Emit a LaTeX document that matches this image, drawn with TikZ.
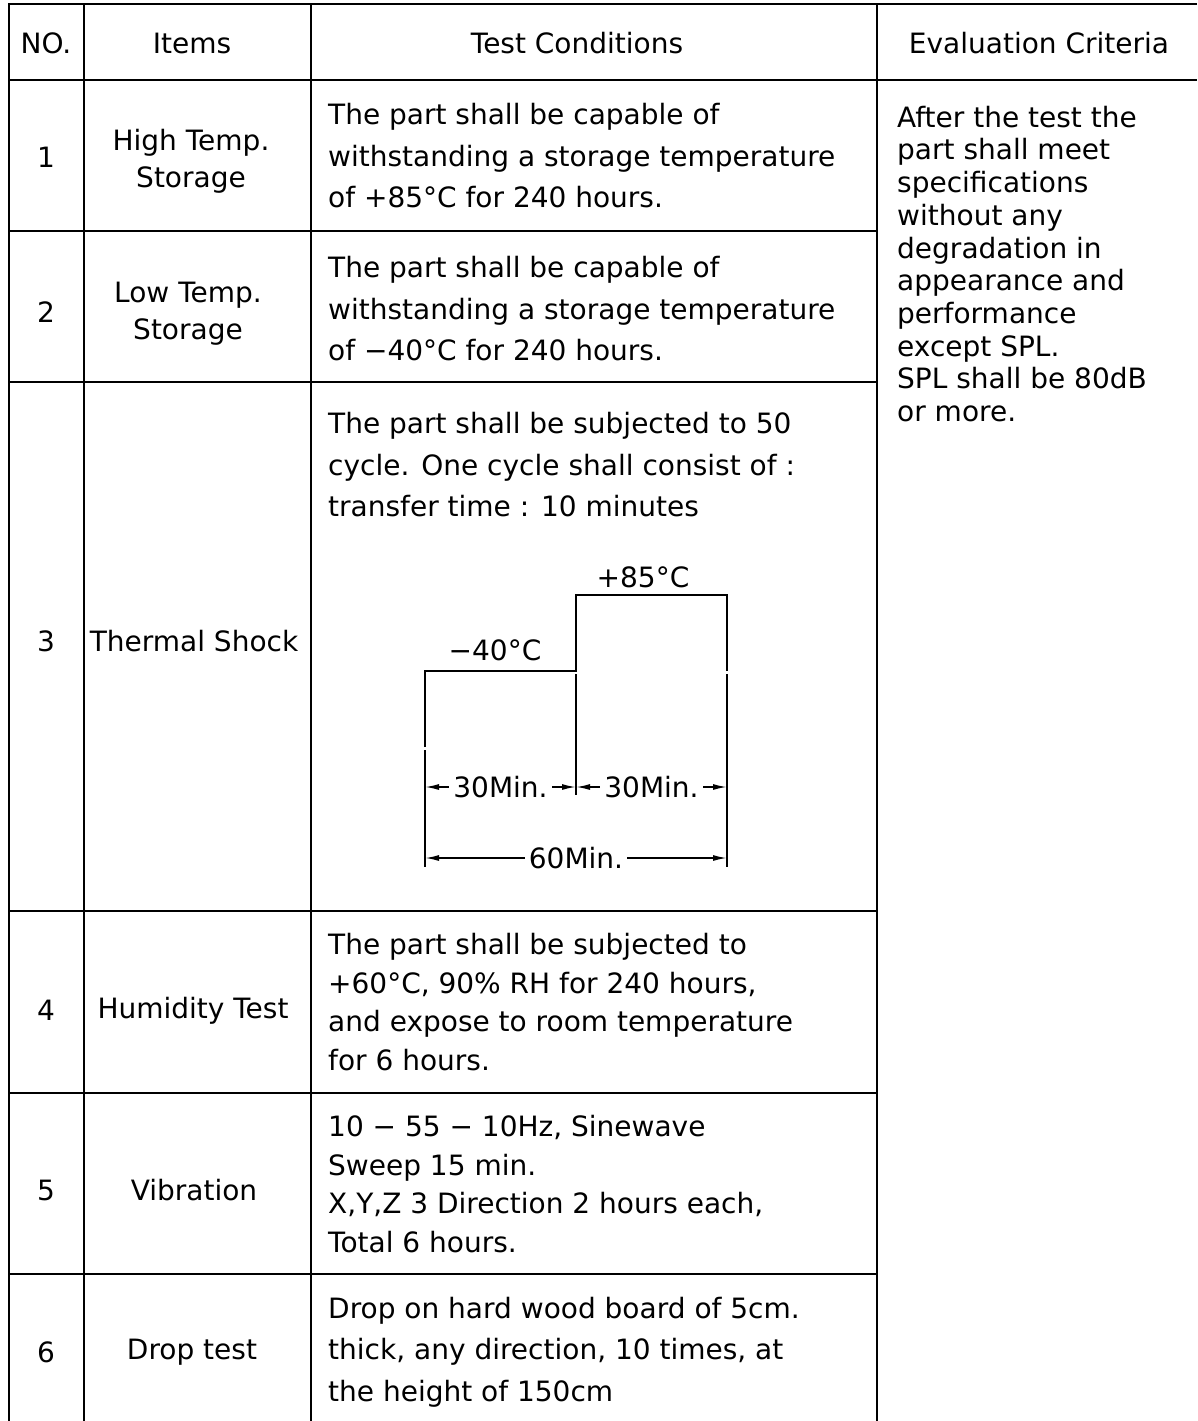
\documentclass[tikz,border=0pt]{standalone}
\usepackage{fontspec}
\setmainfont{DejaVu Sans}
\usetikzlibrary{arrows.meta}

\begin{document}
\begin{tikzpicture}[x=1pt,y=-1pt,
  rule/.style={line width=2.6pt},
  wave/.style={line width=2pt},
  dimline/.style={line width=1.6pt,{Latex[length=14pt,width=6pt]}-{Latex[length=14pt,width=6pt]}},
  txt/.style={font=\fontsize{28}{41.5}\selectfont,inner sep=0pt},
  cell/.style={txt,align=center},
  cond/.style={txt,align=left,anchor=west},
  tight/.style={font=\fontsize{28}{38.7}\selectfont},
  dimlabel/.style={txt,fill=white,inner xsep=4pt}]
\useasboundingbox (0,0) rectangle (1197,1421);

\draw[rule] (1197,4) -- (9,4) -- (9,1421);
\draw[rule] (84,4) -- (84,1421);
\draw[rule] (311,4) -- (311,1421);
\draw[rule] (877,4) -- (877,1421);
\draw[rule] (9,80) -- (1197,80);
\foreach \y in {231,382,911,1093,1274}
  \draw[rule] (9,\y) -- (877,\y);

\node[cell] (hno) at (46,43) {NO.};
\node[cell] (hitem) at (192,43) {Items};
\node[cell] (hcond) at (577,43) {Test Conditions};
\node[cell] (hcrit) at (1039,43) {Evaluation Criteria};

\node[cell] (no1) at (46,157) {1};
\node[cell] (no2) at (46,312) {2};
\node[cell] (no3) at (46,641) {3};
\node[cell] (no4) at (46,1010) {4};
\node[cell] (no5) at (46,1190) {5};
\node[cell] (no6) at (46,1352) {6};

\node[cell,font=\fontsize{28}{37}\selectfont] (item1) at (191,161) {High Temp.\\Storage};
\node[cell,font=\fontsize{28}{37}\selectfont] (item2) at (188,314) {Low Temp.\\Storage};
\node[cell] (item3) at (194,641) {Thermal Shock};
\node[cell] (item4) at (193,1011) {Humidity Test};
\node[cell] (item5) at (194,1190) {Vibration};
\node[cell] (item6) at (192,1352) {Drop test};

\node[cond] (cond1) at (328,156) {The part shall be capable of\\withstanding a storage temperature\\of +85°C for 240 hours.};
\node[cond] (cond2) at (328,309) {The part shall be capable of\\withstanding a storage temperature\\of −40°C for 240 hours.};
\node[cond] (cond3) at (328,465) {The part shall be subjected to 50\\cycle. One cycle shall consist of :\\transfer time : 10 minutes};
\node[cond,tight] (cond4) at (328,1002) {The part shall be subjected to\\+60°C, 90\% RH for 240 hours,\\and expose to room temperature\\for 6 hours.};
\node[cond,tight] (cond5) at (328,1184) {10 − 55 − 10Hz, Sinewave\\Sweep 15 min.\\X,Y,Z 3 Direction 2 hours each,\\Total 6 hours.};
\node[cond] (cond6) at (328,1352) {Drop on hard wood board of 5cm.\\thick, any direction, 10 times, at\\the height of 150cm};

\node[cond,font=\fontsize{28}{32.7}\selectfont] (crit) at (897,264) {After the test the\\part shall meet\\specifications\\without any\\degradation in\\appearance and\\performance\\except SPL.\\SPL shall be 80dB\\or more.};

\coordinate (cold0) at (425,671);
\coordinate (cold1) at (576,671);
\coordinate (hot0) at (576,595);
\coordinate (hot1) at (727,595);
\draw[wave] (425,747) -- (cold0) -- (cold1) -- (hot0) -- (hot1) -- (727,671);
\draw[wave] (425,750) -- (425,867);
\draw[wave] (576,674) -- (576,795);
\draw[wave] (727,674) -- (727,867);

\node[txt] (tcold) at (495,650) {−40°C};
\node[txt] (thot) at (643,577) {+85°C};

\coordinate (d0) at (425,787);
\coordinate (d1) at (576,787);
\coordinate (d2) at (727,787);
\coordinate (e0) at (425,858);
\coordinate (e2) at (727,858);
\draw[dimline] (d0) -- (d1) node[dimlabel,midway] (dcold) {30Min.};
\draw[dimline] (d1) -- (d2) node[dimlabel,midway] (dhot) {30Min.};
\draw[dimline] (e0) -- (e2) node[dimlabel,midway] (dall) {60Min.};
\end{tikzpicture}
\end{document}
